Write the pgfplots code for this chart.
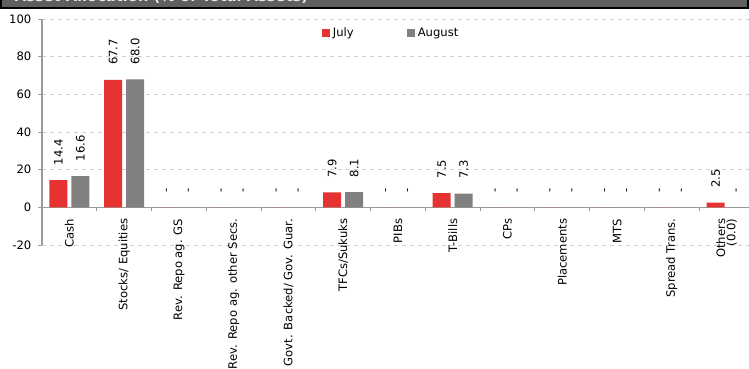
\documentclass[border=0pt]{standalone}
\usepackage{fontspec}
\setmainfont{DejaVu Sans}
\usepackage{pgfplots}
\pgfplotsset{compat=1.18}
\usepackage{pgfplotstable}
\definecolor{jul}{HTML}{E63331}
\definecolor{aug}{HTML}{808080}
\definecolor{band}{HTML}{5F5F5F}
\definecolor{axisgray}{HTML}{9A9A9A}
\definecolor{gridgray}{HTML}{CFCFCF}
\pgfplotstableread{
x july jlab aug alab
0 14.4 14.4 16.6 16.6
1 67.7 67.7 68.0 68.0
2 0 - 0 -
3 0 - 0 -
4 0 - 0 -
5 7.9 7.9 8.1 8.1
6 0 - 0 -
7 7.5 7.5 7.3 7.3
8 0 - 0 -
9 0 - 0 -
10 0 - 0 -
11 0 - 0 -
12 2.5 2.5 0 -
}\datatable
\newcommand{\lblfont}{\fontsize{8.7}{5.6}\selectfont}
\begin{document}
\begin{tikzpicture}
\useasboundingbox (0,0) rectangle (561.75pt,276pt);
\begin{axis}[
  at={(31.5pt,92.25pt)}, anchor=south west,
  scale only axis, width=530.25pt, height=169.5pt,
  xmin=-0.5, xmax=12.41, ymin=-20, ymax=100,
  axis x line*=middle, axis y line*=left,
  axis line style={axisgray, line width=0.8pt},
  ytick={-20,0,20,40,60,80,100},
  ymajorgrids, grid style={dashed, gridgray, line width=0.5pt},
  tick align=outside,
  ytick style={axisgray, line width=0.6pt},
  major tick length=3pt,
  xtick={0,...,12},
  xticklabels={Cash, Stocks/ Equities, Rev. Repo ag. GS, Rev. Repo ag. other Secs., Govt. Backed/ Gov. Guar., TFCs/Sukuks, PIBs, T-Bills, CPs, Placements, MTS, Spread Trans., {Others\\(0.0)}},
  major x tick style={draw=none},
  minor xtick={0.5,1.5,...,12.5},
  minor x tick style={axisgray, line width=0.6pt},
  minor tick length=3pt,
  xticklabel shift=2pt,
  xticklabel style={rotate=90, anchor=east, align=right, font=\lblfont},
  yticklabel style={font=\lblfont, xshift=-1.5pt},
  /pgf/number format/assume math mode=true,
  ybar=3pt, bar width=13.5pt,
  nodes near coords,
  point meta=explicit symbolic,
  nodes near coords style={rotate=90, anchor=west, font=\lblfont, inner xsep=0pt},
  every node near coord/.append style={inner xsep=11pt},
  legend style={at={(0.396,0.936)}, anchor=west, draw=none, fill=none, font=\lblfont,
    legend columns=2, inner sep=0pt,
    /tikz/every even column/.append style={column sep=38pt},
    /tikz/every odd column/.append style={column sep=0pt}},
  legend image code/.code={\fill[#1] (0pt,-3pt) rectangle (6pt,3pt);},
  clip=false,
]
\addplot[fill=jul, draw=none] table[x=x, y=july, meta=jlab] {\datatable};
\addplot[fill=aug, draw=none] table[x=x, y=aug, meta=alab] {\datatable};
\legend{July, August}
\end{axis}
\draw[line width=1.5pt, fill=band] (0.75pt,270pt) rectangle (561pt,285pt);
\begin{scope}
\clip (1.5pt,270.75pt) rectangle (560pt,276pt);
\node[anchor=base west, text=white!85!band, font=\bfseries\fontsize{11}{12}\selectfont, inner sep=0pt] at (11pt,274.75pt) {Asset Allocation (\% of Total Assets)};
\end{scope}
\end{tikzpicture}
\end{document}
